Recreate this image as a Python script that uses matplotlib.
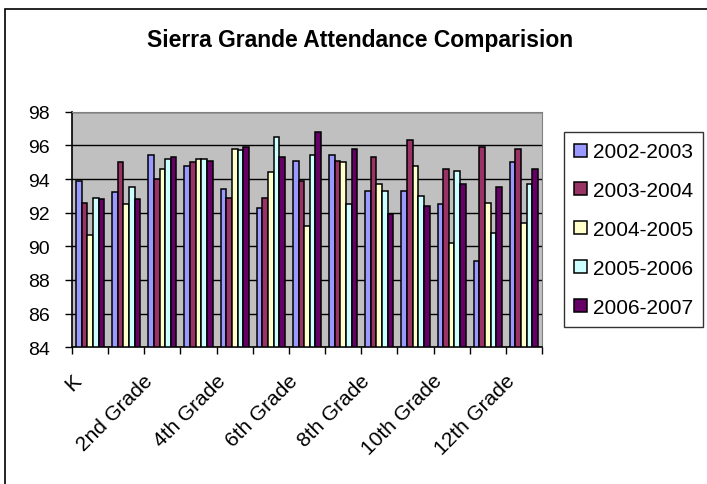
import numpy as np
import matplotlib.pyplot as plt
from matplotlib.patches import Rectangle
from matplotlib.transforms import ScaledTranslation

grades = ["K", "1st Grade", "2nd Grade", "3rd Grade", "4th Grade", "5th Grade",
          "6th Grade", "7th Grade", "8th Grade", "9th Grade", "10th Grade",
          "11th Grade", "12th Grade"]
years = ["2002-2003", "2003-2004", "2004-2005", "2005-2006", "2006-2007"]

att_0203 = [93.9, 93.2, 95.4, 94.8, 93.4, 92.3, 95.1, 95.4, 93.3, 93.3, 92.5, 89.1, 95.0]
att_0304 = [92.6, 95.0, 94.0, 95.0, 92.9, 92.9, 93.9, 95.1, 95.3, 96.3, 94.6, 95.9, 95.8]
att_0405 = [90.7, 92.5, 94.6, 95.2, 95.8, 94.4, 91.2, 95.0, 93.7, 94.8, 90.2, 92.6, 91.4]
att_0506 = [92.9, 93.5, 95.2, 95.2, 95.7, 96.5, 95.4, 92.5, 93.3, 93.0, 94.5, 90.8, 93.7]
att_0607 = [92.8, 92.8, 95.3, 95.1, 95.9, 95.3, 96.8, 95.8, 91.9, 92.4, 93.7, 93.5, 94.6]

series = [att_0203, att_0304, att_0405, att_0506, att_0607]
colors = ["#9999FF", "#993366", "#FFFFCC", "#CCFFFF", "#660066"]

plt.rcParams["font.family"] = ["Liberation Sans", "DejaVu Sans"]

fig = plt.figure(figsize=(7.07, 4.85), dpi=100)

# chart area border
fig.patches.append(Rectangle((5 / 707, -0.1), 1.1, 1 - 10 / 485 + 0.1,
                             transform=fig.transFigure, fill=False,
                             edgecolor="black", linewidth=1.2))

ax = fig.add_axes([72 / 707, 1 - 348.3 / 485, 470 / 707, 235.6 / 485])
ax.set_facecolor("#C0C0C0")

x = np.arange(len(grades))
bar_w = 0.156
for i, (vals, col, yr) in enumerate(zip(series, colors, years)):
    ax.bar(x + (i - 2) * bar_w, np.array(vals) - 84, bottom=84, width=bar_w,
           color=col, edgecolor="black", linewidth=1.1, label=yr, zorder=3)

ax.set_ylim(84, 98)
ax.set_xlim(-0.5, len(grades) - 0.5)
ax.set_yticks(np.arange(84, 99, 2))
ax.yaxis.grid(True, color="black", linewidth=1.0, zorder=1)
ax.tick_params(axis="y", labelsize=14, length=5, width=1, pad=11)

# tick marks between categories, labels on every other category
ax.set_xticks(np.arange(len(grades) + 1) - 0.5, minor=True)
ax.set_xticks(x[::2])
ax.set_xticklabels(grades[::2], rotation=45, ha="right",
                   rotation_mode="anchor", fontsize=15)
ax.tick_params(axis="x", which="minor", length=5, width=1)
ax.tick_params(axis="x", which="major", length=0, pad=17)
shift = ScaledTranslation(-19 / 100, 0, fig.dpi_scale_trans)
for lbl in ax.get_xticklabels():
    lbl.set_transform(lbl.get_transform() + shift)

for side in ["top", "right"]:
    ax.spines[side].set_color("#808080")
for side in ["left", "bottom"]:
    ax.spines[side].set_color("black")
    ax.spines[side].set_linewidth(1.2)

fig.text(360 / 707, 1 - 41 / 485, "Sierra Grande Attendance Comparision",
         ha="center", va="center", fontsize=16.5, fontweight="bold")

leg = fig.legend(loc="upper left", bbox_to_anchor=(564 / 707, 1 - 133 / 485),
                 fontsize=15, frameon=True, fancybox=False, edgecolor="black",
                 handlelength=0.58, handleheight=0.58, handletextpad=0.3,
                 labelspacing=0.95, borderpad=0.5, borderaxespad=0)
leg.get_frame().set_linewidth(1.0)

plt.savefig("out.png", dpi=100)
plt.close()
